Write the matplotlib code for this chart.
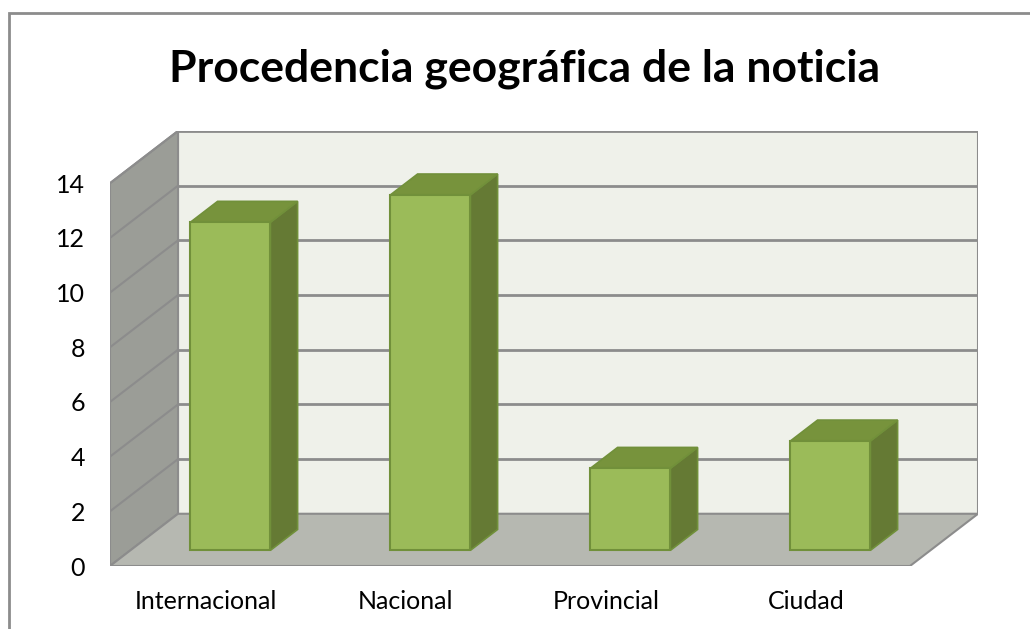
import matplotlib
matplotlib.use('Agg')
import matplotlib.pyplot as plt
from matplotlib.patches import Polygon, Rectangle

# data -----------------------------------------------------------------------
categories = ['Internacional', 'Nacional', 'Provincial', 'Ciudad']
values = [12, 13, 3, 4]
yticks = [0, 2, 4, 6, 8, 10, 12, 14]
title = 'Procedencia geográfica de la noticia'

# fake 3d settings (depth offset in data units)
DX, DY = 0.34, 1.91
ymax = 14
ncat = len(categories)
bar_w = 0.4
d0, d1 = 0.3, 0.7

plt.rcParams['font.family'] = ['Lato', 'DejaVu Sans']

fig = plt.figure(figsize=(10.3, 6.29), dpi=100)
ax = fig.add_axes([110 / 1030, 63 / 629, 868 / 1030, (566 - 131) / 629])
ax.set_xlim(0, ncat + DX)
ax.set_ylim(0, ymax + DY)
for s in ax.spines.values():
    s.set_visible(False)
ax.patch.set_visible(False)


def proj(x, y, d):
    return (x + d * DX, y + d * DY)


grid_c = '#8c8c8c'
# walls
ax.add_patch(Polygon([proj(0, 0, 1), proj(ncat, 0, 1), proj(ncat, ymax, 1), proj(0, ymax, 1)],
                     closed=True, fc='#eff1ea', ec=grid_c, lw=1.5, zorder=1))
ax.add_patch(Polygon([proj(0, 0, 0), proj(0, ymax, 0), proj(0, ymax, 1), proj(0, 0, 1)],
                     closed=True, fc='#9b9d97', ec=grid_c, lw=1.5, zorder=1))
ax.add_patch(Polygon([proj(0, 0, 0), proj(ncat, 0, 0), proj(ncat, 0, 1), proj(0, 0, 1)],
                     closed=True, fc='#b6b8b1', ec=grid_c, lw=1.5, zorder=1))

# gridlines on back and left wall
for v in yticks[1:]:
    p0, p1 = proj(0, v, 1), proj(ncat, v, 1)
    ax.plot([p0[0], p1[0]], [p0[1], p1[1]], color=grid_c, lw=2, zorder=2)
    q0 = proj(0, v, 0)
    ax.plot([q0[0], p0[0]], [q0[1], p0[1]], color=grid_c, lw=1.5, zorder=2)

# bars
edge = '#71903a'
for i, v in enumerate(values):
    xl = i + 0.5 - bar_w / 2
    xr = i + 0.5 + bar_w / 2
    front = [proj(xl, 0, d0), proj(xr, 0, d0), proj(xr, v, d0), proj(xl, v, d0)]
    top = [proj(xl, v, d0), proj(xr, v, d0), proj(xr, v, d1), proj(xl, v, d1)]
    side = [proj(xr, 0, d0), proj(xr, 0, d1), proj(xr, v, d1), proj(xr, v, d0)]
    ax.add_patch(Polygon(side, closed=True, fc='#657a34', ec=edge, lw=1.2, zorder=3))
    ax.add_patch(Polygon(top, closed=True, fc='#77933c', ec=edge, lw=1.2, zorder=3))
    ax.add_patch(Polygon(front, closed=True, fc='#9bbb59', ec=edge, lw=1.5, zorder=4))

ax.set_yticks(yticks)
ax.set_yticklabels([str(t) for t in yticks], fontsize=18)
ax.set_xticks([i + 0.5 - 0.02 for i in range(ncat)])
ax.set_xticklabels(categories, fontsize=18)
ax.tick_params(axis='y', length=0, pad=18)
ax.tick_params(axis='x', length=0, pad=17)

fig.text(525 / 1030, 1 - 69 / 629, title, ha='center', va='center',
         fontsize=32, fontweight='bold')

# chart frame
fig.patches.append(Rectangle((9 / 1030, -0.1), 1.2, 1.1 - 13 / 629, transform=fig.transFigure,
                             fill=False, ec=grid_c, lw=2))

fig.savefig('out.png', dpi=100)
